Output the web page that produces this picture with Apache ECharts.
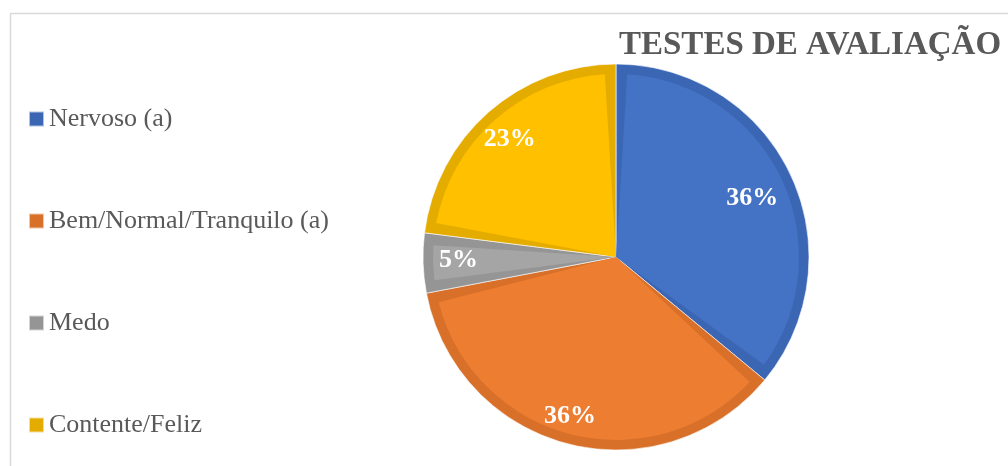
<!DOCTYPE html>
<html><head><meta charset="utf-8">
<script src="https://cdn.jsdelivr.net/npm/echarts@6/dist/echarts.min.js"></script>
<style>html,body{margin:0;padding:0;background:#fff}#c{width:1008px;height:466px}</style>
</head><body><div id="c"></div>
<script>
const chartTitle = 'TESTES DE AVALIAÇÃO';
const categories = ['Nervoso (a)', 'Bem/Normal/Tranquilo (a)', 'Medo', 'Contente/Feliz'];
const values = [36, 36, 5, 23];
const fillColors = ['#4472C4', '#ED7D31', '#A5A5A5', '#FFC000'];
const edgeColors = ['#3B66B4', '#D8702A', '#959595', '#E5AC00'];
const labelOffsets = [[-9, 10], [-6, 4], [3, -2], [0, 3]];

const serif = '"Liberation Serif", "Times New Roman", serif';
const center = [616, 257];

function mk(colors) {
  return categories.map((n, i) => ({ name: n, value: values[i], itemStyle: { color: colors[i] } }));
}

const chart = echarts.init(document.getElementById('c'));
chart.setOption({
  animation: false,
  backgroundColor: '#fff',
  graphic: [{
    type: 'rect', left: 8, top: 11, silent: true,
    shape: { width: 1100, height: 600 },
    style: { fill: 'none', stroke: '#d9d9d9', lineWidth: 1.5 }
  }],
  title: {
    text: chartTitle, left: 614, top: 24,
    textStyle: { fontFamily: serif, fontWeight: 'bold', fontSize: 33, color: '#595959' }
  },
  legend: {
    orient: 'vertical', left: 23, top: 99,
    itemWidth: 15, itemHeight: 15, itemGap: 72,
    icon: 'rect',
    data: categories,
    textStyle: { fontFamily: serif, fontSize: 26, color: '#595959', lineHeight: 30 }
  },
  series: [
    {
      type: 'pie', center: center, radius: [0, 193], startAngle: 90, clockwise: true,
      silent: true, label: { show: false }, labelLine: { show: false },
      itemStyle: { borderColor: 'rgba(255,255,255,0.6)', borderWidth: 1 },
      data: mk(edgeColors)
    },
    {
      type: 'pie', center: center, radius: [0, 183], startAngle: 90, clockwise: true,
      padAngle: 7, silent: true, label: { show: false }, labelLine: { show: false },
      data: mk(fillColors)
    },
    {
      type: 'pie', center: center, radius: [122, 193], startAngle: 90, clockwise: true,
      silent: true, labelLine: { show: false },
      itemStyle: { color: 'rgba(0,0,0,0)' },
      label: {
        show: true, position: 'inside', formatter: '{d}%',
        fontFamily: serif, fontWeight: 'bold', fontSize: 26, color: '#fff'
      },
      data: categories.map((n, i) => ({ name: n, value: values[i], label: { offset: labelOffsets[i] } }))
    }
  ]
});
</script></body></html>
